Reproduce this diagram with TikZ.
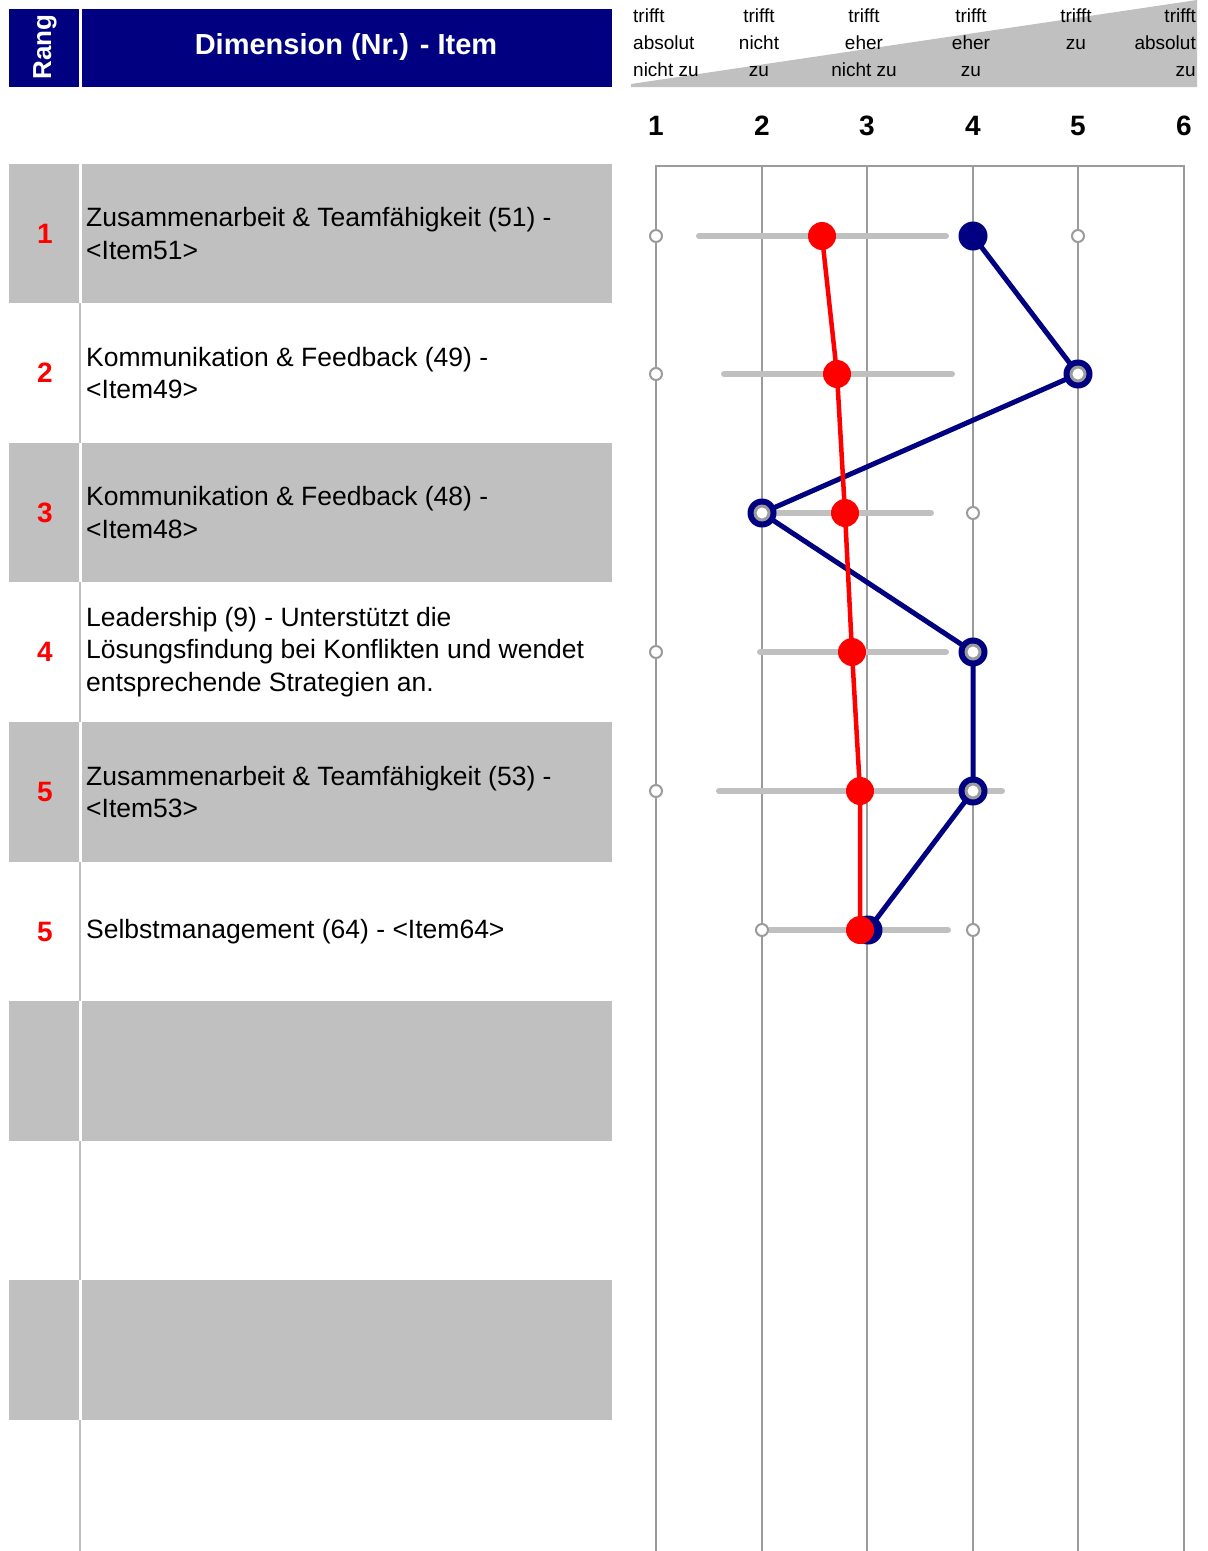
\documentclass[tikz,border=0pt]{standalone}
\usepackage{fontspec}
\setmainfont{Liberation Sans}
\definecolor{navyc}{RGB}{0,0,128}
\definecolor{redc}{RGB}{255,0,0}
\definecolor{bandc}{RGB}{192,192,192}
\definecolor{gridc}{RGB}{155,155,155}
\tikzset{
  hdrtext/.style={font=\fontsize{19}{27}\selectfont, inner sep=0pt, anchor=north},
  scalenum/.style={font=\fontsize{28}{32}\selectfont\bfseries, inner sep=0pt},
  ranknum/.style={font=\fontsize{28}{32}\selectfont\bfseries, text=redc, inner sep=0pt},
  itemtext/.style={font=\fontsize{26.5}{32.5}\selectfont, inner sep=0pt, anchor=west, align=left},
  gridline/.style={draw=gridc, line width=2.8pt},
  rangebar/.style={draw=bandc, line width=6pt, line cap=round},
  scalemark/.style={circle, draw=gridc, fill=white, line width=2pt, minimum size=12pt, inner sep=0pt},
  navyline/.style={draw=navyc, line width=5pt},
  redline/.style={draw=redc, line width=4.5pt},
  navydot/.style={circle, fill=navyc, minimum size=29pt, inner sep=0pt},
  navyring/.style={circle, fill=navyc, minimum size=29pt, inner sep=0pt,
     path picture={\fill[gridc] (path picture bounding box.center) circle (8.5pt);
                   \fill[white] (path picture bounding box.center) circle (5.5pt);}},
  reddot/.style={circle, fill=redc, minimum size=28pt, inner sep=0pt},
}
\begin{document}
\begin{tikzpicture}[x=1pt,y=-1pt]
\useasboundingbox (0,0) rectangle (1208,1551);
\fill[white] (0,0) rectangle (1208,1551);

% header boxes
\fill[navyc] (9,9) rectangle (78.5,87);
\fill[navyc] (81.5,9) rectangle (612,87);
\node[font=\fontsize{26}{30}\selectfont\bfseries, text=white, rotate=90, inner sep=0pt] (rang) at (45,47) {Rang};
\node[font=\fontsize{29}{32}\selectfont\bfseries, text=white, inner sep=0pt] (dimhdr) at (346,47) {Dimension (Nr.) - Item};

% header wedge
\fill[bandc] (631,87) -- (631,84) -- (1197,0) -- (1197,87) -- cycle;
\node[hdrtext, anchor=north west, align=left] (h1) at (633,9) {trifft\\absolut\\nicht zu};
\node[hdrtext, align=center] (h2) at (759,9) {trifft\\nicht\\zu};
\node[hdrtext, align=center] (h3) at (864,9) {trifft\\eher\\nicht zu};
\node[hdrtext, align=center] (h4) at (971,9) {trifft\\eher\\zu};
\node[hdrtext, align=center] (h5) at (1076,9) {trifft\\zu};
\node[hdrtext, anchor=north east, align=right] (h6) at (1196,9) {trifft\\absolut\\zu};

% scale numbers
\node[scalenum] (s1) at (656,126) {1};
\node[scalenum] (s2) at (762,126) {2};
\node[scalenum] (s3) at (867,126) {3};
\node[scalenum] (s4) at (973,126) {4};
\node[scalenum] (s5) at (1078,126) {5};
\node[scalenum] (s6) at (1184,126) {6};

% left separator line
\draw[draw=bandc, line width=2.5pt] (80,164) -- (80,1551);

% gray bands with white separator
\foreach \ya/\yb in {164/303, 443/582, 722/862, 1001/1141, 1280/1420}{
  \fill[white] (78.5,\ya) rectangle (81.5,\yb);
  \fill[bandc] (9,\ya) rectangle (78.5,\yb);
  \fill[bandc] (81.5,\ya) rectangle (612,\yb);
}

% rank numbers
\node[ranknum] (r1) at (45,233.5) {1};
\node[ranknum] (r2) at (45,373) {2};
\node[ranknum] (r3) at (45,512.5) {3};
\node[ranknum] (r4) at (45,652) {4};
\node[ranknum] (r5) at (45,792) {5};
\node[ranknum] (r6) at (45,931.5) {5};

% item texts
\node[itemtext] (t1) at (86,233.5) {Zusammenarbeit \& Teamfähigkeit (51) -\\<Item51>};
\node[itemtext] (t2) at (86,373) {Kommunikation \& Feedback (49) -\\<Item49>};
\node[itemtext] (t3) at (86,512.5) {Kommunikation \& Feedback (48) -\\<Item48>};
\node[itemtext] (t4) at (86,652) {Leadership (9) - Unterstützt die\\Lösungsfindung bei Konflikten und wendet\\entsprechende Strategien an.};
\node[itemtext] (t5) at (86,792) {Zusammenarbeit \& Teamfähigkeit (53) -\\<Item53>};
\node[itemtext] (t6) at (86,931.5) {Selbstmanagement (64) - <Item64>};

% grid
\draw[gridline] (656,1551) -- (656,166) -- (1184,166) -- (1184,1551);
\foreach \x in {762,867,973,1078}{
  \draw[gridline] (\x,166) -- (\x,1551);
}

% range bars
\draw[rangebar] (699,236) -- (946,236);
\draw[rangebar] (724,374) -- (952,374);
\draw[rangebar] (770,513) -- (931,513);
\draw[rangebar] (760,652) -- (946,652);
\draw[rangebar] (719,791) -- (1002,791);
\draw[rangebar] (770,930) -- (948,930);

% scale end markers
\node[scalemark] (m1a) at (656,236) {};
\node[scalemark] (m1b) at (1078,236) {};
\node[scalemark] (m2a) at (656,374) {};
\node[scalemark] (m3b) at (973,513) {};
\node[scalemark] (m4a) at (656,652) {};
\node[scalemark] (m5a) at (656,791) {};
\node[scalemark] (m6a) at (762,930) {};
\node[scalemark] (m6b) at (973,930) {};

% navy series
\coordinate (n1) at (973,236);
\coordinate (n2) at (1078,374);
\coordinate (n3) at (762,513);
\coordinate (n4) at (973,652);
\coordinate (n5) at (973,791);
\coordinate (n6) at (868,930);
\draw[navyline] (n1) -- (n2) -- (n3) -- (n4) -- (n5) -- (n6);
\node[navydot] (nd1) at (n1) {};
\node[navyring] (nd2) at (n2) {};
\node[navyring] (nd3) at (n3) {};
\node[navyring] (nd4) at (n4) {};
\node[navyring] (nd5) at (n5) {};
\node[navydot] (nd6) at (n6) {};

% red series
\coordinate (p1) at (822,236);
\coordinate (p2) at (837,374);
\coordinate (p3) at (845,513);
\coordinate (p4) at (852,652);
\coordinate (p5) at (860,791);
\coordinate (p6) at (860,930);
\draw[redline] (p1) -- (p2) -- (p3) -- (p4) -- (p5) -- (p6);
\node[reddot] (pd1) at (p1) {};
\node[reddot] (pd2) at (p2) {};
\node[reddot] (pd3) at (p3) {};
\node[reddot] (pd4) at (p4) {};
\node[reddot] (pd5) at (p5) {};
\node[reddot] (pd6) at (p6) {};
\end{tikzpicture}
\end{document}
